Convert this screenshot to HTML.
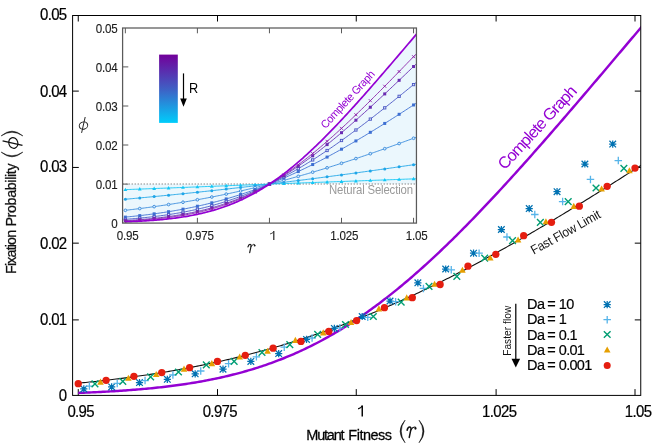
<!DOCTYPE html>
<html><head><meta charset="utf-8"><title>Fixation probability</title>
<style>html,body{margin:0;padding:0;background:#fff}body{width:664px;height:445px;overflow:hidden;font-family:"Liberation Sans",sans-serif}</style></head>
<body>
<svg width="664" height="445" viewBox="0 0 664 445" style="display:block;font-family:'Liberation Sans',sans-serif;will-change:transform;opacity:0.999">
<defs><clipPath id="cm"><rect x="72.60" y="15.50" width="568.15" height="379.90"/></clipPath>
<clipPath id="ci"><rect x="122.60" y="28.00" width="293.85" height="195.10"/></clipPath>
<linearGradient id="cb" x1="0" y1="0" x2="0" y2="1"><stop offset="0" stop-color="#72009a"/><stop offset="0.5" stop-color="#3f5fc4"/><stop offset="1" stop-color="#00cdfb"/></linearGradient>
</defs>
<path d="M78.25 395.40v-6.3M78.25 15.50v6M217.50 395.40v-6.3M217.50 15.50v6M356.25 395.40v-6.3M356.25 15.50v6M496.10 395.40v-6.3M496.10 15.50v6M635.00 395.40v-6.3M635.00 15.50v6M72.60 91.10h6.2M640.75 91.10h-6.0M72.60 167.45h6.2M640.75 167.45h-6.0M72.60 243.15h6.2M640.75 243.15h-6.0M72.60 319.90h6.2M640.75 319.90h-6.0" stroke="#000" stroke-width="1" fill="none"/>
<g clip-path="url(#cm)">
<path d="M78.25 392.91 L80.14 392.84 L82.03 392.76 L83.92 392.69 L85.81 392.61 L87.70 392.53 L89.59 392.45 L91.48 392.36 L93.37 392.28 L95.27 392.19 L97.16 392.10 L99.05 392.00 L100.94 391.91 L102.83 391.81 L104.72 391.71 L106.61 391.60 L108.50 391.50 L110.39 391.39 L112.28 391.28 L114.17 391.16 L116.06 391.05 L117.95 390.93 L119.84 390.80 L121.73 390.67 L123.62 390.54 L125.51 390.41 L127.41 390.28 L129.30 390.14 L131.19 389.99 L133.08 389.84 L134.97 389.69 L136.86 389.54 L138.75 389.38 L140.64 389.22 L142.53 389.05 L144.42 388.88 L146.31 388.71 L148.20 388.53 L150.09 388.35 L151.98 388.16 L153.87 387.97 L155.76 387.77 L157.65 387.57 L159.54 387.37 L161.44 387.16 L163.33 386.94 L165.22 386.72 L167.11 386.49 L169.00 386.26 L170.89 386.03 L172.78 385.79 L174.67 385.54 L176.56 385.29 L178.45 385.03 L180.34 384.76 L182.23 384.49 L184.12 384.22 L186.01 383.94 L187.90 383.65 L189.79 383.35 L191.68 383.05 L193.58 382.74 L195.47 382.43 L197.36 382.11 L199.25 381.78 L201.14 381.44 L203.03 381.10 L204.92 380.75 L206.81 380.39 L208.70 380.03 L210.59 379.66 L212.48 379.28 L214.37 378.89 L216.26 378.50 L218.15 378.09 L220.04 377.68 L221.93 377.26 L223.82 376.83 L225.72 376.39 L227.61 375.95 L229.50 375.49 L231.39 375.03 L233.28 374.56 L235.17 374.08 L237.06 373.59 L238.95 373.09 L240.84 372.58 L242.73 372.06 L244.62 371.53 L246.51 370.99 L248.40 370.44 L250.29 369.89 L252.18 369.32 L254.07 368.74 L255.96 368.15 L257.86 367.55 L259.75 366.94 L261.64 366.32 L263.53 365.69 L265.42 365.04 L267.31 364.39 L269.20 363.72 L271.09 363.05 L272.98 362.36 L274.87 361.66 L276.76 360.95 L278.65 360.23 L280.54 359.50 L282.43 358.75 L284.32 357.99 L286.21 357.22 L288.10 356.44 L290.00 355.65 L291.89 354.84 L293.78 354.02 L295.67 353.19 L297.56 352.35 L299.45 351.49 L301.34 350.63 L303.23 349.74 L305.12 348.85 L307.01 347.94 L308.90 347.02 L310.79 346.09 L312.68 345.15 L314.57 344.19 L316.46 343.22 L318.35 342.23 L320.24 341.23 L322.13 340.22 L324.03 339.20 L325.92 338.16 L327.81 337.11 L329.70 336.04 L331.59 334.97 L333.48 333.87 L335.37 332.77 L337.26 331.65 L339.15 330.52 L341.04 329.37 L342.93 328.22 L344.82 327.04 L346.71 325.86 L348.60 324.66 L350.49 323.45 L352.38 322.22 L354.27 320.98 L356.17 319.73 L358.06 318.46 L359.95 317.18 L361.84 315.89 L363.73 314.58 L365.62 313.26 L367.51 311.93 L369.40 310.58 L371.29 309.22 L373.18 307.85 L375.07 306.46 L376.96 305.06 L378.85 303.65 L380.74 302.22 L382.63 300.79 L384.52 299.34 L386.41 297.87 L388.31 296.40 L390.20 294.91 L392.09 293.41 L393.98 291.89 L395.87 290.36 L397.76 288.83 L399.65 287.27 L401.54 285.71 L403.43 284.14 L405.32 282.55 L407.21 280.95 L409.10 279.34 L410.99 277.71 L412.88 276.08 L414.77 274.43 L416.66 272.78 L418.55 271.11 L420.45 269.43 L422.34 267.74 L424.23 266.03 L426.12 264.32 L428.01 262.60 L429.90 260.86 L431.79 259.12 L433.68 257.36 L435.57 255.60 L437.46 253.82 L439.35 252.03 L441.24 250.24 L443.13 248.43 L445.02 246.62 L446.91 244.79 L448.80 242.95 L450.69 241.11 L452.59 239.26 L454.48 237.39 L456.37 235.52 L458.26 233.64 L460.15 231.75 L462.04 229.85 L463.93 227.95 L465.82 226.03 L467.71 224.11 L469.60 222.18 L471.49 220.24 L473.38 218.29 L475.27 216.34 L477.16 214.38 L479.05 212.41 L480.94 210.43 L482.83 208.44 L484.72 206.45 L486.62 204.45 L488.51 202.45 L490.40 200.44 L492.29 198.42 L494.18 196.39 L496.07 194.36 L497.96 192.32 L499.85 190.28 L501.74 188.23 L503.63 186.17 L505.52 184.11 L507.41 182.04 L509.30 179.97 L511.19 177.89 L513.08 175.80 L514.97 173.71 L516.86 171.62 L518.76 169.52 L520.65 167.42 L522.54 165.31 L524.43 163.19 L526.32 161.08 L528.21 158.95 L530.10 156.83 L531.99 154.69 L533.88 152.56 L535.77 150.42 L537.66 148.27 L539.55 146.13 L541.44 143.98 L543.33 141.82 L545.22 139.66 L547.11 137.50 L549.00 135.34 L550.90 133.17 L552.79 131.00 L554.68 128.82 L556.57 126.64 L558.46 124.46 L560.35 122.28 L562.24 120.09 L564.13 117.90 L566.02 115.71 L567.91 113.52 L569.80 111.32 L571.69 109.12 L573.58 106.92 L575.47 104.72 L577.36 102.51 L579.25 100.30 L581.14 98.09 L583.04 95.88 L584.93 93.67 L586.82 91.45 L588.71 89.24 L590.60 87.02 L592.49 84.80 L594.38 82.57 L596.27 80.35 L598.16 78.13 L600.05 75.90 L601.94 73.67 L603.83 71.45 L605.72 69.22 L607.61 66.99 L609.50 64.75 L611.39 62.52 L613.28 60.29 L615.18 58.05 L617.07 55.82 L618.96 53.58 L620.85 51.34 L622.74 49.11 L624.63 46.87 L626.52 44.63 L628.41 42.39 L630.30 40.15 L632.19 37.91 L634.08 35.67 L635.97 33.43 L637.86 31.19 L639.75 28.95 L641.64 26.70 L643.53 24.46" fill="none" stroke="#9400D3" stroke-width="2.45" stroke-linejoin="round"/>
<path d="M78.25 383.19 L80.14 383.01 L82.03 382.82 L83.92 382.64 L85.81 382.45 L87.70 382.26 L89.59 382.06 L91.48 381.86 L93.37 381.66 L95.27 381.46 L97.16 381.26 L99.05 381.05 L100.94 380.84 L102.83 380.63 L104.72 380.41 L106.61 380.19 L108.50 379.97 L110.39 379.75 L112.28 379.52 L114.17 379.30 L116.06 379.06 L117.95 378.83 L119.84 378.59 L121.73 378.35 L123.62 378.11 L125.51 377.86 L127.41 377.62 L129.30 377.36 L131.19 377.11 L133.08 376.85 L134.97 376.59 L136.86 376.33 L138.75 376.06 L140.64 375.79 L142.53 375.52 L144.42 375.24 L146.31 374.96 L148.20 374.68 L150.09 374.39 L151.98 374.10 L153.87 373.81 L155.76 373.52 L157.65 373.22 L159.54 372.92 L161.44 372.61 L163.33 372.30 L165.22 371.99 L167.11 371.67 L169.00 371.35 L170.89 371.03 L172.78 370.71 L174.67 370.38 L176.56 370.04 L178.45 369.71 L180.34 369.37 L182.23 369.02 L184.12 368.67 L186.01 368.32 L187.90 367.97 L189.79 367.61 L191.68 367.25 L193.58 366.88 L195.47 366.51 L197.36 366.14 L199.25 365.76 L201.14 365.38 L203.03 364.99 L204.92 364.60 L206.81 364.21 L208.70 363.81 L210.59 363.41 L212.48 363.01 L214.37 362.60 L216.26 362.19 L218.15 361.77 L220.04 361.35 L221.93 360.93 L223.82 360.50 L225.72 360.06 L227.61 359.63 L229.50 359.19 L231.39 358.74 L233.28 358.29 L235.17 357.84 L237.06 357.38 L238.95 356.92 L240.84 356.45 L242.73 355.98 L244.62 355.51 L246.51 355.03 L248.40 354.55 L250.29 354.06 L252.18 353.57 L254.07 353.07 L255.96 352.57 L257.86 352.07 L259.75 351.56 L261.64 351.04 L263.53 350.53 L265.42 350.00 L267.31 349.48 L269.20 348.94 L271.09 348.41 L272.98 347.87 L274.87 347.32 L276.76 346.78 L278.65 346.22 L280.54 345.66 L282.43 345.10 L284.32 344.54 L286.21 343.96 L288.10 343.39 L290.00 342.81 L291.89 342.22 L293.78 341.63 L295.67 341.04 L297.56 340.44 L299.45 339.84 L301.34 339.23 L303.23 338.62 L305.12 338.00 L307.01 337.38 L308.90 336.75 L310.79 336.12 L312.68 335.49 L314.57 334.85 L316.46 334.20 L318.35 333.55 L320.24 332.90 L322.13 332.24 L324.03 331.58 L325.92 330.91 L327.81 330.24 L329.70 329.56 L331.59 328.88 L333.48 328.19 L335.37 327.50 L337.26 326.81 L339.15 326.11 L341.04 325.40 L342.93 324.69 L344.82 323.98 L346.71 323.26 L348.60 322.54 L350.49 321.81 L352.38 321.08 L354.27 320.34 L356.17 319.60 L358.06 318.86 L359.95 318.10 L361.84 317.35 L363.73 316.59 L365.62 315.83 L367.51 315.06 L369.40 314.29 L371.29 313.51 L373.18 312.73 L375.07 311.94 L376.96 311.15 L378.85 310.35 L380.74 309.55 L382.63 308.75 L384.52 307.94 L386.41 307.13 L388.31 306.31 L390.20 305.49 L392.09 304.66 L393.98 303.83 L395.87 302.99 L397.76 302.15 L399.65 301.31 L401.54 300.46 L403.43 299.61 L405.32 298.75 L407.21 297.89 L409.10 297.03 L410.99 296.16 L412.88 295.28 L414.77 294.40 L416.66 293.52 L418.55 292.64 L420.45 291.75 L422.34 290.85 L424.23 289.95 L426.12 289.05 L428.01 288.14 L429.90 287.23 L431.79 286.31 L433.68 285.40 L435.57 284.47 L437.46 283.54 L439.35 282.61 L441.24 281.68 L443.13 280.74 L445.02 279.80 L446.91 278.85 L448.80 277.90 L450.69 276.94 L452.59 275.98 L454.48 275.02 L456.37 274.06 L458.26 273.09 L460.15 272.11 L462.04 271.13 L463.93 270.15 L465.82 269.17 L467.71 268.18 L469.60 267.19 L471.49 266.19 L473.38 265.19 L475.27 264.19 L477.16 263.18 L479.05 262.17 L480.94 261.16 L482.83 260.14 L484.72 259.12 L486.62 258.10 L488.51 257.07 L490.40 256.04 L492.29 255.00 L494.18 253.97 L496.07 252.93 L497.96 251.88 L499.85 250.84 L501.74 249.78 L503.63 248.73 L505.52 247.67 L507.41 246.61 L509.30 245.55 L511.19 244.49 L513.08 243.42 L514.97 242.34 L516.86 241.27 L518.76 240.19 L520.65 239.11 L522.54 238.02 L524.43 236.94 L526.32 235.85 L528.21 234.75 L530.10 233.66 L531.99 232.56 L533.88 231.46 L535.77 230.35 L537.66 229.25 L539.55 228.14 L541.44 227.03 L543.33 225.91 L545.22 224.79 L547.11 223.67 L549.00 222.55 L550.90 221.42 L552.79 220.30 L554.68 219.17 L556.57 218.03 L558.46 216.90 L560.35 215.76 L562.24 214.62 L564.13 213.48 L566.02 212.33 L567.91 211.18 L569.80 210.04 L571.69 208.88 L573.58 207.73 L575.47 206.57 L577.36 205.41 L579.25 204.25 L581.14 203.09 L583.04 201.93 L584.93 200.76 L586.82 199.59 L588.71 198.42 L590.60 197.25 L592.49 196.07 L594.38 194.89 L596.27 193.71 L598.16 192.53 L600.05 191.35 L601.94 190.16 L603.83 188.98 L605.72 187.79 L607.61 186.60 L609.50 185.41 L611.39 184.21 L613.28 183.02 L615.18 181.82 L617.07 180.62 L618.96 179.42 L620.85 178.22 L622.74 177.01 L624.63 175.81 L626.52 174.60 L628.41 173.39 L630.30 172.18 L632.19 170.97 L634.08 169.75 L635.97 168.54 L637.86 167.32 L639.75 166.10 L641.64 164.89 L643.53 163.66" fill="none" stroke="#111" stroke-width="1.1"/>
</g>
<path d="M80.22 388.90H87.42M83.82 385.30V392.50M80.51 385.59L87.13 392.21M80.51 392.21L87.13 385.59" stroke="#0072B2" stroke-width="1.25" fill="none"/>
<path d="M108.06 386.90H115.26M111.66 383.30V390.50M108.34 383.59L114.97 390.21M108.34 390.21L114.97 383.59" stroke="#0072B2" stroke-width="1.25" fill="none"/>
<path d="M135.89 382.60H143.09M139.49 379.00V386.20M136.18 379.29L142.80 385.91M136.18 385.91L142.80 379.29" stroke="#0072B2" stroke-width="1.25" fill="none"/>
<path d="M163.73 379.30H170.93M167.33 375.70V382.90M164.02 375.99L170.64 382.61M164.02 382.61L170.64 375.99" stroke="#0072B2" stroke-width="1.25" fill="none"/>
<path d="M191.57 373.80H198.77M195.17 370.20V377.40M191.86 370.49L198.48 377.11M191.86 377.11L198.48 370.49" stroke="#0072B2" stroke-width="1.25" fill="none"/>
<path d="M219.41 369.20H226.61M223.01 365.60V372.80M219.69 365.89L226.32 372.51M219.69 372.51L226.32 365.89" stroke="#0072B2" stroke-width="1.25" fill="none"/>
<path d="M247.24 361.40H254.44M250.84 357.80V365.00M247.53 358.09L254.15 364.71M247.53 364.71L254.15 358.09" stroke="#0072B2" stroke-width="1.25" fill="none"/>
<path d="M275.08 353.60H282.28M278.68 350.00V357.20M275.37 350.29L281.99 356.91M275.37 356.91L281.99 350.29" stroke="#0072B2" stroke-width="1.25" fill="none"/>
<path d="M302.92 339.40H310.12M306.52 335.80V343.00M303.21 336.09L309.83 342.71M303.21 342.71L309.83 336.09" stroke="#0072B2" stroke-width="1.25" fill="none"/>
<path d="M330.76 328.40H337.96M334.36 324.80V332.00M331.04 325.09L337.67 331.71M331.04 331.71L337.67 325.09" stroke="#0072B2" stroke-width="1.25" fill="none"/>
<path d="M358.59 316.50H365.79M362.19 312.90V320.10M358.88 313.19L365.50 319.81M358.88 319.81L365.50 313.19" stroke="#0072B2" stroke-width="1.25" fill="none"/>
<path d="M386.43 301.00H393.63M390.03 297.40V304.60M386.72 297.69L393.34 304.31M386.72 304.31L393.34 297.69" stroke="#0072B2" stroke-width="1.25" fill="none"/>
<path d="M414.27 282.80H421.47M417.87 279.20V286.40M414.56 279.49L421.18 286.11M414.56 286.11L421.18 279.49" stroke="#0072B2" stroke-width="1.25" fill="none"/>
<path d="M442.11 269.00H449.31M445.71 265.40V272.60M442.39 265.69L449.02 272.31M442.39 272.31L449.02 265.69" stroke="#0072B2" stroke-width="1.25" fill="none"/>
<path d="M469.94 253.20H477.14M473.54 249.60V256.80M470.23 249.89L476.85 256.51M470.23 256.51L476.85 249.89" stroke="#0072B2" stroke-width="1.25" fill="none"/>
<path d="M497.78 229.50H504.98M501.38 225.90V233.10M498.07 226.19L504.69 232.81M498.07 232.81L504.69 226.19" stroke="#0072B2" stroke-width="1.25" fill="none"/>
<path d="M525.62 208.60H532.82M529.22 205.00V212.20M525.91 205.29L532.53 211.91M525.91 211.91L532.53 205.29" stroke="#0072B2" stroke-width="1.25" fill="none"/>
<path d="M553.46 191.70H560.66M557.06 188.10V195.30M553.74 188.39L560.37 195.01M553.74 195.01L560.37 188.39" stroke="#0072B2" stroke-width="1.25" fill="none"/>
<path d="M581.29 164.00H588.49M584.89 160.40V167.60M581.58 160.69L588.20 167.31M581.58 167.31L588.20 160.69" stroke="#0072B2" stroke-width="1.25" fill="none"/>
<path d="M609.13 144.10H616.33M612.73 140.50V147.70M609.42 140.79L616.04 147.41M609.42 147.41L616.04 140.79" stroke="#0072B2" stroke-width="1.25" fill="none"/>
<path d="M85.64 386.10H93.14M89.39 382.35V389.85" stroke="#56B4E9" stroke-width="1.30" fill="none"/>
<path d="M113.47 383.40H120.97M117.22 379.65V387.15" stroke="#56B4E9" stroke-width="1.30" fill="none"/>
<path d="M141.31 380.60H148.81M145.06 376.85V384.35" stroke="#56B4E9" stroke-width="1.30" fill="none"/>
<path d="M169.15 375.00H176.65M172.90 371.25V378.75" stroke="#56B4E9" stroke-width="1.30" fill="none"/>
<path d="M196.99 371.00H204.49M200.74 367.25V374.75" stroke="#56B4E9" stroke-width="1.30" fill="none"/>
<path d="M224.82 363.70H232.32M228.57 359.95V367.45" stroke="#56B4E9" stroke-width="1.30" fill="none"/>
<path d="M252.66 356.80H260.16M256.41 353.05V360.55" stroke="#56B4E9" stroke-width="1.30" fill="none"/>
<path d="M280.50 347.20H288.00M284.25 343.45V350.95" stroke="#56B4E9" stroke-width="1.30" fill="none"/>
<path d="M308.34 338.00H315.84M312.09 334.25V341.75" stroke="#56B4E9" stroke-width="1.30" fill="none"/>
<path d="M336.17 327.80H343.67M339.92 324.05V331.55" stroke="#56B4E9" stroke-width="1.30" fill="none"/>
<path d="M364.01 317.30H371.51M367.76 313.55V321.05" stroke="#56B4E9" stroke-width="1.30" fill="none"/>
<path d="M391.85 301.70H399.35M395.60 297.95V305.45" stroke="#56B4E9" stroke-width="1.30" fill="none"/>
<path d="M419.69 288.40H427.19M423.44 284.65V292.15" stroke="#56B4E9" stroke-width="1.30" fill="none"/>
<path d="M447.52 269.80H455.02M451.27 266.05V273.55" stroke="#56B4E9" stroke-width="1.30" fill="none"/>
<path d="M475.36 253.20H482.86M479.11 249.45V256.95" stroke="#56B4E9" stroke-width="1.30" fill="none"/>
<path d="M503.20 237.00H510.70M506.95 233.25V240.75" stroke="#56B4E9" stroke-width="1.30" fill="none"/>
<path d="M531.04 214.50H538.54M534.79 210.75V218.25" stroke="#56B4E9" stroke-width="1.30" fill="none"/>
<path d="M558.87 201.60H566.37M562.62 197.85V205.35" stroke="#56B4E9" stroke-width="1.30" fill="none"/>
<path d="M586.71 179.40H594.21M590.46 175.65V183.15" stroke="#56B4E9" stroke-width="1.30" fill="none"/>
<path d="M614.55 160.60H622.05M618.30 156.85V164.35" stroke="#56B4E9" stroke-width="1.30" fill="none"/>
<path d="M91.60 380.55L98.30 387.25M91.60 387.25L98.30 380.55" stroke="#009E73" stroke-width="1.40" fill="none"/>
<path d="M119.44 378.05L126.14 384.75M119.44 384.75L126.14 378.05" stroke="#009E73" stroke-width="1.40" fill="none"/>
<path d="M147.28 373.55L153.98 380.25M147.28 380.25L153.98 373.55" stroke="#009E73" stroke-width="1.40" fill="none"/>
<path d="M175.12 368.65L181.82 375.35M175.12 375.35L181.82 368.65" stroke="#009E73" stroke-width="1.40" fill="none"/>
<path d="M202.95 361.55L209.65 368.25M202.95 368.25L209.65 361.55" stroke="#009E73" stroke-width="1.40" fill="none"/>
<path d="M230.79 358.05L237.49 364.75M230.79 364.75L237.49 358.05" stroke="#009E73" stroke-width="1.40" fill="none"/>
<path d="M258.63 349.15L265.33 355.85M258.63 355.85L265.33 349.15" stroke="#009E73" stroke-width="1.40" fill="none"/>
<path d="M286.47 341.35L293.17 348.05M286.47 348.05L293.17 341.35" stroke="#009E73" stroke-width="1.40" fill="none"/>
<path d="M314.30 331.05L321.00 337.75M314.30 337.75L321.00 331.05" stroke="#009E73" stroke-width="1.40" fill="none"/>
<path d="M342.14 321.15L348.84 327.85M342.14 327.85L348.84 321.15" stroke="#009E73" stroke-width="1.40" fill="none"/>
<path d="M369.98 313.15L376.68 319.85M369.98 319.85L376.68 313.15" stroke="#009E73" stroke-width="1.40" fill="none"/>
<path d="M397.82 298.85L404.52 305.55M397.82 305.55L404.52 298.85" stroke="#009E73" stroke-width="1.40" fill="none"/>
<path d="M425.65 283.05L432.35 289.75M425.65 289.75L432.35 283.05" stroke="#009E73" stroke-width="1.40" fill="none"/>
<path d="M453.49 273.05L460.19 279.75M453.49 279.75L460.19 273.05" stroke="#009E73" stroke-width="1.40" fill="none"/>
<path d="M481.33 254.75L488.03 261.45M481.33 261.45L488.03 254.75" stroke="#009E73" stroke-width="1.40" fill="none"/>
<path d="M509.17 237.25L515.87 243.95M509.17 243.95L515.87 237.25" stroke="#009E73" stroke-width="1.40" fill="none"/>
<path d="M537.00 219.05L543.70 225.75M537.00 225.75L543.70 219.05" stroke="#009E73" stroke-width="1.40" fill="none"/>
<path d="M564.84 198.25L571.54 204.95M564.84 204.95L571.54 198.25" stroke="#009E73" stroke-width="1.40" fill="none"/>
<path d="M592.68 184.65L599.38 191.35M592.68 191.35L599.38 184.65" stroke="#009E73" stroke-width="1.40" fill="none"/>
<path d="M620.52 165.05L627.22 171.75M620.52 171.75L627.22 165.05" stroke="#009E73" stroke-width="1.40" fill="none"/>
<path d="M100.52 378.54L103.82 384.65L97.22 384.65Z" fill="#E69F00"/>
<path d="M128.36 374.74L131.66 380.85L125.06 380.85Z" fill="#E69F00"/>
<path d="M156.20 370.94L159.50 377.05L152.90 377.05Z" fill="#E69F00"/>
<path d="M184.03 365.54L187.33 371.65L180.73 371.65Z" fill="#E69F00"/>
<path d="M211.87 360.04L215.17 366.15L208.57 366.15Z" fill="#E69F00"/>
<path d="M239.71 353.44L243.01 359.55L236.41 359.55Z" fill="#E69F00"/>
<path d="M267.55 347.74L270.85 353.85L264.25 353.85Z" fill="#E69F00"/>
<path d="M295.38 336.84L298.68 342.95L292.08 342.95Z" fill="#E69F00"/>
<path d="M323.22 329.34L326.52 335.45L319.92 335.45Z" fill="#E69F00"/>
<path d="M351.06 318.94L354.36 325.05L347.76 325.05Z" fill="#E69F00"/>
<path d="M378.90 305.34L382.20 311.45L375.60 311.45Z" fill="#E69F00"/>
<path d="M406.73 294.34L410.03 300.45L403.43 300.45Z" fill="#E69F00"/>
<path d="M434.57 280.64L437.87 286.75L431.27 286.75Z" fill="#E69F00"/>
<path d="M462.41 266.64L465.71 272.75L459.11 272.75Z" fill="#E69F00"/>
<path d="M490.25 254.44L493.55 260.55L486.95 260.55Z" fill="#E69F00"/>
<path d="M518.08 236.44L521.38 242.55L514.78 242.55Z" fill="#E69F00"/>
<path d="M545.92 218.14L549.22 224.25L542.62 224.25Z" fill="#E69F00"/>
<path d="M573.76 202.84L577.06 208.95L570.46 208.95Z" fill="#E69F00"/>
<path d="M601.60 185.44L604.90 191.55L598.30 191.55Z" fill="#E69F00"/>
<path d="M629.43 167.24L632.73 173.35L626.13 173.35Z" fill="#E69F00"/>
<circle cx="78.25" cy="383.70" r="3.65" fill="#E51E10"/>
<circle cx="106.09" cy="380.30" r="3.65" fill="#E51E10"/>
<circle cx="133.93" cy="376.30" r="3.65" fill="#E51E10"/>
<circle cx="161.76" cy="372.60" r="3.65" fill="#E51E10"/>
<circle cx="189.60" cy="367.70" r="3.65" fill="#E51E10"/>
<circle cx="217.44" cy="361.40" r="3.65" fill="#E51E10"/>
<circle cx="245.28" cy="355.30" r="3.65" fill="#E51E10"/>
<circle cx="273.11" cy="348.20" r="3.65" fill="#E51E10"/>
<circle cx="300.95" cy="341.40" r="3.65" fill="#E51E10"/>
<circle cx="328.79" cy="331.40" r="3.65" fill="#E51E10"/>
<circle cx="356.63" cy="320.60" r="3.65" fill="#E51E10"/>
<circle cx="384.46" cy="307.70" r="3.65" fill="#E51E10"/>
<circle cx="412.30" cy="297.70" r="3.65" fill="#E51E10"/>
<circle cx="440.14" cy="284.50" r="3.65" fill="#E51E10"/>
<circle cx="467.98" cy="266.20" r="3.65" fill="#E51E10"/>
<circle cx="495.81" cy="254.30" r="3.65" fill="#E51E10"/>
<circle cx="523.65" cy="235.70" r="3.65" fill="#E51E10"/>
<circle cx="551.49" cy="222.30" r="3.65" fill="#E51E10"/>
<circle cx="579.33" cy="206.20" r="3.65" fill="#E51E10"/>
<circle cx="607.16" cy="186.30" r="3.65" fill="#E51E10"/>
<circle cx="635.00" cy="168.10" r="3.65" fill="#E51E10"/>
<g stroke="#000" stroke-width="1" fill="none">
<rect x="72.60" y="15.50" width="568.15" height="379.90"/>
</g>
<text transform="translate(66.40 20.40) scale(1 1.090)" font-size="15.00" text-anchor="end" fill="#000" letter-spacing="-0.7" stroke="#000" stroke-width="0.20">0.05</text>
<text transform="translate(66.40 96.95) scale(1 1.090)" font-size="15.00" text-anchor="end" fill="#000" letter-spacing="-0.7" stroke="#000" stroke-width="0.20">0.04</text>
<text transform="translate(66.40 172.35) scale(1 1.090)" font-size="15.00" text-anchor="end" fill="#000" letter-spacing="-0.7" stroke="#000" stroke-width="0.20">0.03</text>
<text transform="translate(66.40 249.05) scale(1 1.090)" font-size="15.00" text-anchor="end" fill="#000" letter-spacing="-0.7" stroke="#000" stroke-width="0.20">0.02</text>
<text transform="translate(66.40 324.55) scale(1 1.090)" font-size="15.00" text-anchor="end" fill="#000" letter-spacing="-0.7" stroke="#000" stroke-width="0.20">0.01</text>
<text transform="translate(66.40 401.40) scale(1 1.090)" font-size="15.00" text-anchor="end" fill="#000" letter-spacing="-0.7" stroke="#000" stroke-width="0.20">0</text>
<text transform="translate(80.70 416.80) scale(1 1.090)" font-size="15.00" text-anchor="middle" fill="#000" letter-spacing="-0.65" stroke="#000" stroke-width="0.20">0.95</text>
<text transform="translate(219.80 416.80) scale(1 1.090)" font-size="15.00" text-anchor="middle" fill="#000" letter-spacing="-0.65" stroke="#000" stroke-width="0.20">0.975</text>
<path d="M362.25 405.6V416.6" stroke="#000" stroke-width="1.45" fill="none"/><path d="M362.3 405.7C361.6 407.2 360.0 408.3 358.1 408.9" stroke="#000" stroke-width="1.15" fill="none"/>
<text transform="translate(499.20 416.80) scale(1 1.090)" font-size="15.00" text-anchor="middle" fill="#000" letter-spacing="-0.65" stroke="#000" stroke-width="0.20">1.025</text>
<text transform="translate(638.15 416.80) scale(1 1.090)" font-size="15.00" text-anchor="middle" fill="#000" letter-spacing="-0.65" stroke="#000" stroke-width="0.20">1.05</text>
<rect x="122.60" y="28.00" width="293.85" height="195.10" fill="#fff"/>
<g clip-path="url(#ci)">
<path d="M125.35 221.83 L126.82 221.77 L128.28 221.71 L129.75 221.65 L131.22 221.59 L132.69 221.52 L134.15 221.46 L135.62 221.39 L137.09 221.31 L138.55 221.24 L140.02 221.16 L141.49 221.08 L142.96 220.99 L144.42 220.90 L145.89 220.81 L147.36 220.71 L148.82 220.62 L150.29 220.51 L151.76 220.41 L153.23 220.29 L154.69 220.18 L156.16 220.06 L157.63 219.94 L159.09 219.81 L160.56 219.68 L162.03 219.54 L163.50 219.39 L164.96 219.25 L166.43 219.09 L167.90 218.93 L169.36 218.77 L170.83 218.60 L172.30 218.42 L173.77 218.24 L175.23 218.05 L176.70 217.86 L178.17 217.65 L179.63 217.45 L181.10 217.23 L182.57 217.01 L184.04 216.78 L185.50 216.54 L186.97 216.29 L188.44 216.04 L189.90 215.78 L191.37 215.51 L192.84 215.23 L194.31 214.94 L195.77 214.64 L197.24 214.34 L198.71 214.02 L200.18 213.70 L201.64 213.37 L203.11 213.02 L204.58 212.67 L206.04 212.30 L207.51 211.93 L208.98 211.54 L210.45 211.14 L211.91 210.73 L213.38 210.31 L214.85 209.88 L216.31 209.44 L217.78 208.98 L219.25 208.52 L220.72 208.04 L222.18 207.54 L223.65 207.04 L225.12 206.52 L226.58 205.99 L228.05 205.45 L229.52 204.89 L230.99 204.32 L232.45 203.73 L233.92 203.13 L235.39 202.52 L236.85 201.89 L238.32 201.25 L239.79 200.59 L241.26 199.92 L242.72 199.24 L244.19 198.54 L245.66 197.82 L247.12 197.09 L248.59 196.35 L250.06 195.59 L251.53 194.81 L252.99 194.02 L254.46 193.21 L255.93 192.39 L257.39 191.55 L258.86 190.70 L260.33 189.83 L261.80 188.95 L263.26 188.05 L264.73 187.13 L266.20 186.20 L267.66 185.25 L269.13 184.29 L270.60 183.31 L272.07 182.32 L273.53 181.31 L275.00 180.29 L276.47 179.25 L277.93 178.19 L279.40 177.12 L280.87 176.04 L282.34 174.94 L283.80 173.82 L285.27 172.69 L286.74 171.55 L288.20 170.39 L289.67 169.22 L291.14 168.03 L292.61 166.83 L294.07 165.61 L295.54 164.38 L297.01 163.14 L298.47 161.88 L299.94 160.61 L301.41 159.33 L302.88 158.03 L304.34 156.72 L305.81 155.40 L307.28 154.07 L308.74 152.72 L310.21 151.36 L311.68 149.99 L313.15 148.61 L314.61 147.21 L316.08 145.81 L317.55 144.39 L319.01 142.97 L320.48 141.53 L321.95 140.08 L323.42 138.63 L324.88 137.16 L326.35 135.68 L327.82 134.20 L329.29 132.70 L330.75 131.20 L332.22 129.68 L333.69 128.16 L335.15 126.63 L336.62 125.09 L338.09 123.54 L339.56 121.99 L341.02 120.43 L342.49 118.86 L343.96 117.28 L345.42 115.70 L346.89 114.11 L348.36 112.51 L349.83 110.91 L351.29 109.30 L352.76 107.68 L354.23 106.06 L355.69 104.44 L357.16 102.81 L358.63 101.17 L360.10 99.53 L361.56 97.88 L363.03 96.23 L364.50 94.57 L365.96 92.91 L367.43 91.25 L368.90 89.58 L370.37 87.91 L371.83 86.23 L373.30 84.55 L374.77 82.87 L376.23 81.19 L377.70 79.50 L379.17 77.81 L380.64 76.11 L382.10 74.42 L383.57 72.72 L385.04 71.01 L386.50 69.31 L387.97 67.60 L389.44 65.90 L390.91 64.19 L392.37 62.47 L393.84 60.76 L395.31 59.04 L396.77 57.33 L398.24 55.61 L399.71 53.89 L401.18 52.17 L402.64 50.45 L404.11 48.72 L405.58 47.00 L407.04 45.28 L408.51 43.55 L409.98 41.83 L411.45 40.10 L412.91 38.37 L414.38 36.65 L415.85 34.92 L417.31 33.19 L417.31 184.08 L125.35 184.08Z" fill="#ebf7fd"/>
<path d="M125.35 223.10v-5.3M125.35 28.00v5.3M197.40 223.10v-5.3M197.40 28.00v5.3M269.45 223.10v-5.3M269.45 28.00v5.3M341.50 223.10v-5.3M341.50 28.00v5.3M413.55 223.10v-5.3M413.55 28.00v5.3M122.60 66.90h5.7M122.60 106.00h5.7M122.60 145.00h5.7M122.60 184.10h5.7" stroke="#5a5a5a" stroke-width="1" fill="none"/>
<path d="M122.60 184.08H416.45" stroke="#7c7c7c" stroke-width="1.05" stroke-dasharray="1.3 1.7" fill="none"/>
<path d="M125.35 189.64 L126.82 189.58 L128.28 189.53 L129.75 189.47 L131.22 189.42 L132.69 189.36 L134.15 189.31 L135.62 189.25 L137.09 189.20 L138.55 189.14 L140.02 189.08 L141.49 189.03 L142.96 188.97 L144.42 188.92 L145.89 188.86 L147.36 188.81 L148.82 188.75 L150.29 188.70 L151.76 188.64 L153.23 188.58 L154.69 188.53 L156.16 188.47 L157.63 188.42 L159.09 188.36 L160.56 188.31 L162.03 188.25 L163.50 188.19 L164.96 188.14 L166.43 188.08 L167.90 188.03 L169.36 187.97 L170.83 187.91 L172.30 187.86 L173.77 187.80 L175.23 187.75 L176.70 187.69 L178.17 187.63 L179.63 187.58 L181.10 187.52 L182.57 187.47 L184.04 187.41 L185.50 187.35 L186.97 187.30 L188.44 187.24 L189.90 187.18 L191.37 187.13 L192.84 187.07 L194.31 187.01 L195.77 186.96 L197.24 186.90 L198.71 186.84 L200.18 186.79 L201.64 186.73 L203.11 186.67 L204.58 186.62 L206.04 186.56 L207.51 186.50 L208.98 186.45 L210.45 186.39 L211.91 186.33 L213.38 186.28 L214.85 186.22 L216.31 186.16 L217.78 186.11 L219.25 186.05 L220.72 185.99 L222.18 185.93 L223.65 185.88 L225.12 185.82 L226.58 185.76 L228.05 185.71 L229.52 185.65 L230.99 185.59 L232.45 185.53 L233.92 185.48 L235.39 185.42 L236.85 185.36 L238.32 185.30 L239.79 185.25 L241.26 185.19 L242.72 185.13 L244.19 185.07 L245.66 185.02 L247.12 184.96 L248.59 184.90 L250.06 184.84 L251.53 184.79 L252.99 184.73 L254.46 184.67 L255.93 184.61 L257.39 184.56 L258.86 184.50 L260.33 184.44 L261.80 184.38 L263.26 184.32 L264.73 184.27 L266.20 184.21 L267.66 184.15 L269.13 184.09 L270.60 184.04 L272.07 183.99 L273.53 183.93 L275.00 183.88 L276.47 183.83 L277.93 183.78 L279.40 183.73 L280.87 183.67 L282.34 183.62 L283.80 183.57 L285.27 183.52 L286.74 183.46 L288.20 183.41 L289.67 183.36 L291.14 183.31 L292.61 183.26 L294.07 183.20 L295.54 183.15 L297.01 183.10 L298.47 183.05 L299.94 182.99 L301.41 182.94 L302.88 182.89 L304.34 182.84 L305.81 182.78 L307.28 182.73 L308.74 182.68 L310.21 182.62 L311.68 182.57 L313.15 182.52 L314.61 182.47 L316.08 182.41 L317.55 182.36 L319.01 182.31 L320.48 182.26 L321.95 182.20 L323.42 182.15 L324.88 182.10 L326.35 182.04 L327.82 181.99 L329.29 181.94 L330.75 181.89 L332.22 181.83 L333.69 181.78 L335.15 181.73 L336.62 181.67 L338.09 181.62 L339.56 181.57 L341.02 181.52 L342.49 181.46 L343.96 181.41 L345.42 181.36 L346.89 181.30 L348.36 181.25 L349.83 181.20 L351.29 181.14 L352.76 181.09 L354.23 181.04 L355.69 180.98 L357.16 180.93 L358.63 180.88 L360.10 180.82 L361.56 180.77 L363.03 180.72 L364.50 180.67 L365.96 180.61 L367.43 180.56 L368.90 180.51 L370.37 180.45 L371.83 180.40 L373.30 180.35 L374.77 180.29 L376.23 180.24 L377.70 180.19 L379.17 180.13 L380.64 180.08 L382.10 180.02 L383.57 179.97 L385.04 179.92 L386.50 179.86 L387.97 179.81 L389.44 179.76 L390.91 179.70 L392.37 179.65 L393.84 179.60 L395.31 179.54 L396.77 179.49 L398.24 179.44 L399.71 179.38 L401.18 179.33 L402.64 179.27 L404.11 179.22 L405.58 179.17 L407.04 179.11 L408.51 179.06 L409.98 179.01 L411.45 178.95 L412.91 178.90 L414.38 178.84 L415.85 178.79 L417.31 178.74" fill="none" stroke="#12c6f5" stroke-width="0.9"/>
<path d="M125.35 187.64L127.25 191.04L123.45 191.04Z" fill="#12c6f5"/>
<path d="M139.76 187.09L141.66 190.49L137.86 190.49Z" fill="#12c6f5"/>
<path d="M154.17 186.55L156.07 189.95L152.27 189.95Z" fill="#12c6f5"/>
<path d="M168.58 186.00L170.48 189.40L166.68 189.40Z" fill="#12c6f5"/>
<path d="M182.99 185.45L184.89 188.85L181.09 188.85Z" fill="#12c6f5"/>
<path d="M197.40 184.89L199.30 188.29L195.50 188.29Z" fill="#12c6f5"/>
<path d="M211.81 184.34L213.71 187.74L209.91 187.74Z" fill="#12c6f5"/>
<path d="M226.22 183.78L228.12 187.18L224.32 187.18Z" fill="#12c6f5"/>
<path d="M240.63 183.21L242.53 186.61L238.73 186.61Z" fill="#12c6f5"/>
<path d="M255.04 182.65L256.94 186.05L253.14 186.05Z" fill="#12c6f5"/>
<path d="M269.45 182.08L271.35 185.48L267.55 185.48Z" fill="#12c6f5"/>
<path d="M283.86 181.57L285.76 184.97L281.96 184.97Z" fill="#12c6f5"/>
<path d="M298.27 181.05L300.17 184.45L296.37 184.45Z" fill="#12c6f5"/>
<path d="M312.68 180.54L314.58 183.94L310.78 183.94Z" fill="#12c6f5"/>
<path d="M327.09 180.02L328.99 183.42L325.19 183.42Z" fill="#12c6f5"/>
<path d="M341.50 179.50L343.40 182.90L339.60 182.90Z" fill="#12c6f5"/>
<path d="M355.91 178.98L357.81 182.38L354.01 182.38Z" fill="#12c6f5"/>
<path d="M370.32 178.45L372.22 181.85L368.42 181.85Z" fill="#12c6f5"/>
<path d="M384.73 177.93L386.63 181.33L382.83 181.33Z" fill="#12c6f5"/>
<path d="M399.14 177.40L401.04 180.80L397.24 180.80Z" fill="#12c6f5"/>
<path d="M413.55 176.87L415.45 180.27L411.65 180.27Z" fill="#12c6f5"/>
<path d="M125.35 199.25 L126.82 199.12 L128.28 198.99 L129.75 198.85 L131.22 198.72 L132.69 198.59 L134.15 198.45 L135.62 198.32 L137.09 198.18 L138.55 198.05 L140.02 197.91 L141.49 197.78 L142.96 197.64 L144.42 197.50 L145.89 197.36 L147.36 197.23 L148.82 197.09 L150.29 196.95 L151.76 196.81 L153.23 196.67 L154.69 196.53 L156.16 196.39 L157.63 196.25 L159.09 196.10 L160.56 195.96 L162.03 195.82 L163.50 195.67 L164.96 195.53 L166.43 195.39 L167.90 195.24 L169.36 195.10 L170.83 194.95 L172.30 194.80 L173.77 194.66 L175.23 194.51 L176.70 194.36 L178.17 194.21 L179.63 194.07 L181.10 193.92 L182.57 193.77 L184.04 193.62 L185.50 193.47 L186.97 193.31 L188.44 193.16 L189.90 193.01 L191.37 192.86 L192.84 192.71 L194.31 192.55 L195.77 192.40 L197.24 192.24 L198.71 192.09 L200.18 191.93 L201.64 191.78 L203.11 191.62 L204.58 191.47 L206.04 191.31 L207.51 191.15 L208.98 190.99 L210.45 190.83 L211.91 190.68 L213.38 190.52 L214.85 190.36 L216.31 190.20 L217.78 190.04 L219.25 189.87 L220.72 189.71 L222.18 189.55 L223.65 189.39 L225.12 189.22 L226.58 189.06 L228.05 188.90 L229.52 188.73 L230.99 188.57 L232.45 188.40 L233.92 188.24 L235.39 188.07 L236.85 187.90 L238.32 187.74 L239.79 187.57 L241.26 187.40 L242.72 187.23 L244.19 187.06 L245.66 186.89 L247.12 186.72 L248.59 186.55 L250.06 186.38 L251.53 186.21 L252.99 186.04 L254.46 185.87 L255.93 185.69 L257.39 185.52 L258.86 185.35 L260.33 185.17 L261.80 185.00 L263.26 184.82 L264.73 184.65 L266.20 184.47 L267.66 184.30 L269.13 184.12 L270.60 183.94 L272.07 183.76 L273.53 183.59 L275.00 183.41 L276.47 183.23 L277.93 183.05 L279.40 182.87 L280.87 182.69 L282.34 182.51 L283.80 182.33 L285.27 182.15 L286.74 181.96 L288.20 181.78 L289.67 181.60 L291.14 181.42 L292.61 181.23 L294.07 181.05 L295.54 180.86 L297.01 180.68 L298.47 180.49 L299.94 180.31 L301.41 180.12 L302.88 179.94 L304.34 179.75 L305.81 179.56 L307.28 179.37 L308.74 179.18 L310.21 179.00 L311.68 178.81 L313.15 178.62 L314.61 178.43 L316.08 178.24 L317.55 178.05 L319.01 177.86 L320.48 177.66 L321.95 177.47 L323.42 177.28 L324.88 177.09 L326.35 176.89 L327.82 176.70 L329.29 176.51 L330.75 176.31 L332.22 176.12 L333.69 175.92 L335.15 175.73 L336.62 175.53 L338.09 175.33 L339.56 175.14 L341.02 174.94 L342.49 174.74 L343.96 174.54 L345.42 174.35 L346.89 174.15 L348.36 173.95 L349.83 173.75 L351.29 173.55 L352.76 173.35 L354.23 173.15 L355.69 172.95 L357.16 172.75 L358.63 172.54 L360.10 172.34 L361.56 172.14 L363.03 171.94 L364.50 171.73 L365.96 171.53 L367.43 171.32 L368.90 171.12 L370.37 170.92 L371.83 170.71 L373.30 170.50 L374.77 170.30 L376.23 170.09 L377.70 169.89 L379.17 169.68 L380.64 169.47 L382.10 169.26 L383.57 169.06 L385.04 168.85 L386.50 168.64 L387.97 168.43 L389.44 168.22 L390.91 168.01 L392.37 167.80 L393.84 167.59 L395.31 167.38 L396.77 167.17 L398.24 166.95 L399.71 166.74 L401.18 166.53 L402.64 166.32 L404.11 166.10 L405.58 165.89 L407.04 165.68 L408.51 165.46 L409.98 165.25 L411.45 165.03 L412.91 164.82 L414.38 164.60 L415.85 164.39 L417.31 164.17" fill="none" stroke="#1fa6e8" stroke-width="0.9"/>
<circle cx="125.35" cy="199.25" r="1.5" fill="#1fa6e8"/>
<circle cx="139.76" cy="197.94" r="1.5" fill="#1fa6e8"/>
<circle cx="154.17" cy="196.58" r="1.5" fill="#1fa6e8"/>
<circle cx="168.58" cy="195.17" r="1.5" fill="#1fa6e8"/>
<circle cx="182.99" cy="193.72" r="1.5" fill="#1fa6e8"/>
<circle cx="197.40" cy="192.23" r="1.5" fill="#1fa6e8"/>
<circle cx="211.81" cy="190.69" r="1.5" fill="#1fa6e8"/>
<circle cx="226.22" cy="189.10" r="1.5" fill="#1fa6e8"/>
<circle cx="240.63" cy="187.47" r="1.5" fill="#1fa6e8"/>
<circle cx="255.04" cy="185.80" r="1.5" fill="#1fa6e8"/>
<circle cx="269.45" cy="184.08" r="1.5" fill="#1fa6e8"/>
<circle cx="283.86" cy="182.32" r="1.5" fill="#1fa6e8"/>
<circle cx="298.27" cy="180.52" r="1.5" fill="#1fa6e8"/>
<circle cx="312.68" cy="178.68" r="1.5" fill="#1fa6e8"/>
<circle cx="327.09" cy="176.80" r="1.5" fill="#1fa6e8"/>
<circle cx="341.50" cy="174.88" r="1.5" fill="#1fa6e8"/>
<circle cx="355.91" cy="172.92" r="1.5" fill="#1fa6e8"/>
<circle cx="370.32" cy="170.92" r="1.5" fill="#1fa6e8"/>
<circle cx="384.73" cy="168.89" r="1.5" fill="#1fa6e8"/>
<circle cx="399.14" cy="166.83" r="1.5" fill="#1fa6e8"/>
<circle cx="413.55" cy="164.73" r="1.5" fill="#1fa6e8"/>
<path d="M125.35 210.31 L126.82 210.14 L128.28 209.97 L129.75 209.79 L131.22 209.62 L132.69 209.44 L134.15 209.26 L135.62 209.08 L137.09 208.90 L138.55 208.72 L140.02 208.53 L141.49 208.35 L142.96 208.16 L144.42 207.97 L145.89 207.77 L147.36 207.58 L148.82 207.38 L150.29 207.18 L151.76 206.98 L153.23 206.78 L154.69 206.58 L156.16 206.37 L157.63 206.16 L159.09 205.95 L160.56 205.74 L162.03 205.52 L163.50 205.31 L164.96 205.09 L166.43 204.87 L167.90 204.65 L169.36 204.42 L170.83 204.20 L172.30 203.97 L173.77 203.74 L175.23 203.51 L176.70 203.27 L178.17 203.03 L179.63 202.80 L181.10 202.56 L182.57 202.31 L184.04 202.07 L185.50 201.82 L186.97 201.57 L188.44 201.32 L189.90 201.07 L191.37 200.81 L192.84 200.55 L194.31 200.29 L195.77 200.03 L197.24 199.77 L198.71 199.50 L200.18 199.23 L201.64 198.96 L203.11 198.69 L204.58 198.42 L206.04 198.14 L207.51 197.86 L208.98 197.58 L210.45 197.30 L211.91 197.01 L213.38 196.72 L214.85 196.43 L216.31 196.14 L217.78 195.85 L219.25 195.55 L220.72 195.25 L222.18 194.95 L223.65 194.65 L225.12 194.34 L226.58 194.03 L228.05 193.73 L229.52 193.41 L230.99 193.10 L232.45 192.78 L233.92 192.46 L235.39 192.14 L236.85 191.82 L238.32 191.50 L239.79 191.17 L241.26 190.84 L242.72 190.51 L244.19 190.17 L245.66 189.84 L247.12 189.50 L248.59 189.16 L250.06 188.82 L251.53 188.47 L252.99 188.12 L254.46 187.77 L255.93 187.42 L257.39 187.07 L258.86 186.71 L260.33 186.35 L261.80 185.99 L263.26 185.63 L264.73 185.27 L266.20 184.90 L267.66 184.53 L269.13 184.16 L270.60 183.79 L272.07 183.41 L273.53 183.03 L275.00 182.65 L276.47 182.27 L277.93 181.89 L279.40 181.50 L280.87 181.11 L282.34 180.72 L283.80 180.33 L285.27 179.94 L286.74 179.54 L288.20 179.14 L289.67 178.74 L291.14 178.34 L292.61 177.93 L294.07 177.53 L295.54 177.12 L297.01 176.70 L298.47 176.29 L299.94 175.88 L301.41 175.46 L302.88 175.04 L304.34 174.62 L305.81 174.19 L307.28 173.77 L308.74 173.34 L310.21 172.91 L311.68 172.48 L313.15 172.05 L314.61 171.61 L316.08 171.17 L317.55 170.73 L319.01 170.29 L320.48 169.85 L321.95 169.41 L323.42 168.96 L324.88 168.51 L326.35 168.06 L327.82 167.61 L329.29 167.15 L330.75 166.69 L332.22 166.24 L333.69 165.78 L335.15 165.31 L336.62 164.85 L338.09 164.38 L339.56 163.92 L341.02 163.45 L342.49 162.98 L343.96 162.50 L345.42 162.03 L346.89 161.55 L348.36 161.08 L349.83 160.60 L351.29 160.11 L352.76 159.63 L354.23 159.15 L355.69 158.66 L357.16 158.17 L358.63 157.68 L360.10 157.19 L361.56 156.70 L363.03 156.20 L364.50 155.70 L365.96 155.21 L367.43 154.71 L368.90 154.21 L370.37 153.70 L371.83 153.20 L373.30 152.69 L374.77 152.19 L376.23 151.68 L377.70 151.17 L379.17 150.65 L380.64 150.14 L382.10 149.63 L383.57 149.11 L385.04 148.59 L386.50 148.07 L387.97 147.55 L389.44 147.03 L390.91 146.51 L392.37 145.98 L393.84 145.45 L395.31 144.93 L396.77 144.40 L398.24 143.87 L399.71 143.34 L401.18 142.80 L402.64 142.27 L404.11 141.73 L405.58 141.20 L407.04 140.66 L408.51 140.12 L409.98 139.58 L411.45 139.04 L412.91 138.49 L414.38 137.95 L415.85 137.40 L417.31 136.86" fill="none" stroke="#3a8cdc" stroke-width="0.9"/>
<circle cx="125.35" cy="210.31" r="1.35" fill="#dcedfa" stroke="#3a8cdc" stroke-width="0.95"/>
<circle cx="139.76" cy="208.57" r="1.35" fill="#dcedfa" stroke="#3a8cdc" stroke-width="0.95"/>
<circle cx="154.17" cy="206.65" r="1.35" fill="#dcedfa" stroke="#3a8cdc" stroke-width="0.95"/>
<circle cx="168.58" cy="204.54" r="1.35" fill="#dcedfa" stroke="#3a8cdc" stroke-width="0.95"/>
<circle cx="182.99" cy="202.24" r="1.35" fill="#dcedfa" stroke="#3a8cdc" stroke-width="0.95"/>
<circle cx="197.40" cy="199.74" r="1.35" fill="#dcedfa" stroke="#3a8cdc" stroke-width="0.95"/>
<circle cx="211.81" cy="197.03" r="1.35" fill="#dcedfa" stroke="#3a8cdc" stroke-width="0.95"/>
<circle cx="226.22" cy="194.11" r="1.35" fill="#dcedfa" stroke="#3a8cdc" stroke-width="0.95"/>
<circle cx="240.63" cy="190.98" r="1.35" fill="#dcedfa" stroke="#3a8cdc" stroke-width="0.95"/>
<circle cx="255.04" cy="187.64" r="1.35" fill="#dcedfa" stroke="#3a8cdc" stroke-width="0.95"/>
<circle cx="269.45" cy="184.08" r="1.35" fill="#dcedfa" stroke="#3a8cdc" stroke-width="0.95"/>
<circle cx="283.86" cy="180.32" r="1.35" fill="#dcedfa" stroke="#3a8cdc" stroke-width="0.95"/>
<circle cx="298.27" cy="176.35" r="1.35" fill="#dcedfa" stroke="#3a8cdc" stroke-width="0.95"/>
<circle cx="312.68" cy="172.18" r="1.35" fill="#dcedfa" stroke="#3a8cdc" stroke-width="0.95"/>
<circle cx="327.09" cy="167.83" r="1.35" fill="#dcedfa" stroke="#3a8cdc" stroke-width="0.95"/>
<circle cx="341.50" cy="163.29" r="1.35" fill="#dcedfa" stroke="#3a8cdc" stroke-width="0.95"/>
<circle cx="355.91" cy="158.59" r="1.35" fill="#dcedfa" stroke="#3a8cdc" stroke-width="0.95"/>
<circle cx="370.32" cy="153.72" r="1.35" fill="#dcedfa" stroke="#3a8cdc" stroke-width="0.95"/>
<circle cx="384.73" cy="148.70" r="1.35" fill="#dcedfa" stroke="#3a8cdc" stroke-width="0.95"/>
<circle cx="399.14" cy="143.54" r="1.35" fill="#dcedfa" stroke="#3a8cdc" stroke-width="0.95"/>
<circle cx="413.55" cy="138.26" r="1.35" fill="#dcedfa" stroke="#3a8cdc" stroke-width="0.95"/>
<path d="M125.35 217.10 L126.82 216.96 L128.28 216.82 L129.75 216.68 L131.22 216.53 L132.69 216.38 L134.15 216.23 L135.62 216.07 L137.09 215.91 L138.55 215.75 L140.02 215.59 L141.49 215.42 L142.96 215.25 L144.42 215.07 L145.89 214.89 L147.36 214.71 L148.82 214.53 L150.29 214.34 L151.76 214.15 L153.23 213.95 L154.69 213.76 L156.16 213.55 L157.63 213.35 L159.09 213.14 L160.56 212.93 L162.03 212.71 L163.50 212.49 L164.96 212.26 L166.43 212.04 L167.90 211.80 L169.36 211.57 L170.83 211.33 L172.30 211.08 L173.77 210.83 L175.23 210.58 L176.70 210.32 L178.17 210.06 L179.63 209.80 L181.10 209.53 L182.57 209.25 L184.04 208.98 L185.50 208.69 L186.97 208.41 L188.44 208.11 L189.90 207.82 L191.37 207.52 L192.84 207.21 L194.31 206.90 L195.77 206.58 L197.24 206.26 L198.71 205.94 L200.18 205.61 L201.64 205.28 L203.11 204.94 L204.58 204.59 L206.04 204.24 L207.51 203.89 L208.98 203.53 L210.45 203.16 L211.91 202.80 L213.38 202.42 L214.85 202.04 L216.31 201.66 L217.78 201.27 L219.25 200.87 L220.72 200.47 L222.18 200.07 L223.65 199.65 L225.12 199.24 L226.58 198.82 L228.05 198.39 L229.52 197.96 L230.99 197.52 L232.45 197.08 L233.92 196.63 L235.39 196.17 L236.85 195.71 L238.32 195.25 L239.79 194.78 L241.26 194.30 L242.72 193.82 L244.19 193.33 L245.66 192.84 L247.12 192.34 L248.59 191.84 L250.06 191.33 L251.53 190.82 L252.99 190.30 L254.46 189.77 L255.93 189.24 L257.39 188.70 L258.86 188.16 L260.33 187.61 L261.80 187.06 L263.26 186.50 L264.73 185.93 L266.20 185.36 L267.66 184.79 L269.13 184.21 L270.60 183.62 L272.07 183.03 L273.53 182.43 L275.00 181.83 L276.47 181.22 L277.93 180.61 L279.40 179.99 L280.87 179.36 L282.34 178.73 L283.80 178.10 L285.27 177.46 L286.74 176.81 L288.20 176.16 L289.67 175.50 L291.14 174.84 L292.61 174.17 L294.07 173.50 L295.54 172.82 L297.01 172.14 L298.47 171.45 L299.94 170.76 L301.41 170.06 L302.88 169.36 L304.34 168.65 L305.81 167.94 L307.28 167.22 L308.74 166.50 L310.21 165.77 L311.68 165.04 L313.15 164.30 L314.61 163.56 L316.08 162.81 L317.55 162.06 L319.01 161.31 L320.48 160.55 L321.95 159.78 L323.42 159.01 L324.88 158.24 L326.35 157.46 L327.82 156.68 L329.29 155.89 L330.75 155.10 L332.22 154.31 L333.69 153.51 L335.15 152.70 L336.62 151.90 L338.09 151.08 L339.56 150.27 L341.02 149.45 L342.49 148.63 L343.96 147.80 L345.42 146.97 L346.89 146.13 L348.36 145.29 L349.83 144.45 L351.29 143.60 L352.76 142.75 L354.23 141.90 L355.69 141.04 L357.16 140.18 L358.63 139.32 L360.10 138.45 L361.56 137.58 L363.03 136.71 L364.50 135.83 L365.96 134.95 L367.43 134.07 L368.90 133.18 L370.37 132.29 L371.83 131.40 L373.30 130.50 L374.77 129.61 L376.23 128.70 L377.70 127.80 L379.17 126.89 L380.64 125.99 L382.10 125.07 L383.57 124.16 L385.04 123.24 L386.50 122.32 L387.97 121.40 L389.44 120.48 L390.91 119.55 L392.37 118.62 L393.84 117.69 L395.31 116.75 L396.77 115.82 L398.24 114.88 L399.71 113.94 L401.18 113.00 L402.64 112.05 L404.11 111.11 L405.58 110.16 L407.04 109.21 L408.51 108.26 L409.98 107.30 L411.45 106.35 L412.91 105.39 L414.38 104.43 L415.85 103.47 L417.31 102.51" fill="none" stroke="#3d6fd2" stroke-width="0.9"/>
<rect x="123.85" y="215.60" width="3.00" height="3.00" fill="#3d6fd2"/>
<rect x="138.26" y="214.12" width="3.00" height="3.00" fill="#3d6fd2"/>
<rect x="152.67" y="212.33" width="3.00" height="3.00" fill="#3d6fd2"/>
<rect x="167.08" y="210.19" width="3.00" height="3.00" fill="#3d6fd2"/>
<rect x="181.49" y="207.67" width="3.00" height="3.00" fill="#3d6fd2"/>
<rect x="195.90" y="204.73" width="3.00" height="3.00" fill="#3d6fd2"/>
<rect x="210.31" y="201.32" width="3.00" height="3.00" fill="#3d6fd2"/>
<rect x="224.72" y="197.42" width="3.00" height="3.00" fill="#3d6fd2"/>
<rect x="239.13" y="193.01" width="3.00" height="3.00" fill="#3d6fd2"/>
<rect x="253.54" y="188.06" width="3.00" height="3.00" fill="#3d6fd2"/>
<rect x="267.95" y="182.58" width="3.00" height="3.00" fill="#3d6fd2"/>
<rect x="282.36" y="176.57" width="3.00" height="3.00" fill="#3d6fd2"/>
<rect x="296.77" y="170.05" width="3.00" height="3.00" fill="#3d6fd2"/>
<rect x="311.18" y="163.04" width="3.00" height="3.00" fill="#3d6fd2"/>
<rect x="325.59" y="155.57" width="3.00" height="3.00" fill="#3d6fd2"/>
<rect x="340.00" y="147.68" width="3.00" height="3.00" fill="#3d6fd2"/>
<rect x="354.41" y="139.42" width="3.00" height="3.00" fill="#3d6fd2"/>
<rect x="368.82" y="130.82" width="3.00" height="3.00" fill="#3d6fd2"/>
<rect x="383.23" y="121.93" width="3.00" height="3.00" fill="#3d6fd2"/>
<rect x="397.64" y="112.80" width="3.00" height="3.00" fill="#3d6fd2"/>
<rect x="412.05" y="103.47" width="3.00" height="3.00" fill="#3d6fd2"/>
<path d="M125.35 219.32 L126.82 219.21 L128.28 219.10 L129.75 218.98 L131.22 218.86 L132.69 218.74 L134.15 218.62 L135.62 218.49 L137.09 218.36 L138.55 218.22 L140.02 218.08 L141.49 217.94 L142.96 217.80 L144.42 217.65 L145.89 217.49 L147.36 217.34 L148.82 217.18 L150.29 217.01 L151.76 216.85 L153.23 216.67 L154.69 216.50 L156.16 216.32 L157.63 216.13 L159.09 215.94 L160.56 215.75 L162.03 215.55 L163.50 215.35 L164.96 215.14 L166.43 214.93 L167.90 214.71 L169.36 214.49 L170.83 214.27 L172.30 214.03 L173.77 213.80 L175.23 213.56 L176.70 213.31 L178.17 213.06 L179.63 212.80 L181.10 212.54 L182.57 212.27 L184.04 211.99 L185.50 211.71 L186.97 211.43 L188.44 211.14 L189.90 210.84 L191.37 210.54 L192.84 210.23 L194.31 209.91 L195.77 209.59 L197.24 209.26 L198.71 208.92 L200.18 208.58 L201.64 208.24 L203.11 207.88 L204.58 207.52 L206.04 207.15 L207.51 206.78 L208.98 206.40 L210.45 206.01 L211.91 205.61 L213.38 205.21 L214.85 204.80 L216.31 204.38 L217.78 203.96 L219.25 203.53 L220.72 203.09 L222.18 202.64 L223.65 202.19 L225.12 201.73 L226.58 201.26 L228.05 200.78 L229.52 200.30 L230.99 199.81 L232.45 199.31 L233.92 198.80 L235.39 198.29 L236.85 197.77 L238.32 197.23 L239.79 196.70 L241.26 196.15 L242.72 195.60 L244.19 195.03 L245.66 194.46 L247.12 193.88 L248.59 193.30 L250.06 192.70 L251.53 192.10 L252.99 191.49 L254.46 190.87 L255.93 190.24 L257.39 189.61 L258.86 188.96 L260.33 188.31 L261.80 187.65 L263.26 186.99 L264.73 186.31 L266.20 185.63 L267.66 184.93 L269.13 184.23 L270.60 183.52 L272.07 182.81 L273.53 182.08 L275.00 181.35 L276.47 180.61 L277.93 179.86 L279.40 179.11 L280.87 178.34 L282.34 177.57 L283.80 176.79 L285.27 176.00 L286.74 175.21 L288.20 174.40 L289.67 173.59 L291.14 172.78 L292.61 171.95 L294.07 171.12 L295.54 170.27 L297.01 169.43 L298.47 168.57 L299.94 167.71 L301.41 166.84 L302.88 165.96 L304.34 165.07 L305.81 164.18 L307.28 163.28 L308.74 162.38 L310.21 161.47 L311.68 160.55 L313.15 159.62 L314.61 158.69 L316.08 157.75 L317.55 156.80 L319.01 155.85 L320.48 154.89 L321.95 153.93 L323.42 152.95 L324.88 151.98 L326.35 150.99 L327.82 150.00 L329.29 149.01 L330.75 148.01 L332.22 147.00 L333.69 145.99 L335.15 144.97 L336.62 143.95 L338.09 142.92 L339.56 141.88 L341.02 140.84 L342.49 139.80 L343.96 138.75 L345.42 137.69 L346.89 136.63 L348.36 135.57 L349.83 134.50 L351.29 133.42 L352.76 132.34 L354.23 131.26 L355.69 130.17 L357.16 129.08 L358.63 127.98 L360.10 126.88 L361.56 125.78 L363.03 124.67 L364.50 123.56 L365.96 122.44 L367.43 121.32 L368.90 120.20 L370.37 119.07 L371.83 117.94 L373.30 116.80 L374.77 115.67 L376.23 114.52 L377.70 113.38 L379.17 112.23 L380.64 111.08 L382.10 109.93 L383.57 108.77 L385.04 107.61 L386.50 106.45 L387.97 105.28 L389.44 104.12 L390.91 102.95 L392.37 101.77 L393.84 100.60 L395.31 99.42 L396.77 98.24 L398.24 97.06 L399.71 95.87 L401.18 94.69 L402.64 93.50 L404.11 92.31 L405.58 91.12 L407.04 89.92 L408.51 88.73 L409.98 87.53 L411.45 86.33 L412.91 85.13 L414.38 83.92 L415.85 82.72 L417.31 81.51" fill="none" stroke="#4a56c4" stroke-width="0.9"/>
<rect x="124.20" y="218.17" width="2.30" height="2.30" fill="#d8e4f6" stroke="#4a56c4" stroke-width="0.9"/>
<rect x="138.61" y="216.96" width="2.30" height="2.30" fill="#d8e4f6" stroke="#4a56c4" stroke-width="0.9"/>
<rect x="153.02" y="215.41" width="2.30" height="2.30" fill="#d8e4f6" stroke="#4a56c4" stroke-width="0.9"/>
<rect x="167.43" y="213.46" width="2.30" height="2.30" fill="#d8e4f6" stroke="#4a56c4" stroke-width="0.9"/>
<rect x="181.84" y="211.04" width="2.30" height="2.30" fill="#d8e4f6" stroke="#4a56c4" stroke-width="0.9"/>
<rect x="196.25" y="208.07" width="2.30" height="2.30" fill="#d8e4f6" stroke="#4a56c4" stroke-width="0.9"/>
<rect x="210.66" y="204.49" width="2.30" height="2.30" fill="#d8e4f6" stroke="#4a56c4" stroke-width="0.9"/>
<rect x="225.07" y="200.23" width="2.30" height="2.30" fill="#d8e4f6" stroke="#4a56c4" stroke-width="0.9"/>
<rect x="239.48" y="195.23" width="2.30" height="2.30" fill="#d8e4f6" stroke="#4a56c4" stroke-width="0.9"/>
<rect x="253.89" y="189.47" width="2.30" height="2.30" fill="#d8e4f6" stroke="#4a56c4" stroke-width="0.9"/>
<rect x="268.30" y="182.93" width="2.30" height="2.30" fill="#d8e4f6" stroke="#4a56c4" stroke-width="0.9"/>
<rect x="282.71" y="175.61" width="2.30" height="2.30" fill="#d8e4f6" stroke="#4a56c4" stroke-width="0.9"/>
<rect x="297.12" y="167.54" width="2.30" height="2.30" fill="#d8e4f6" stroke="#4a56c4" stroke-width="0.9"/>
<rect x="311.53" y="158.77" width="2.30" height="2.30" fill="#d8e4f6" stroke="#4a56c4" stroke-width="0.9"/>
<rect x="325.94" y="149.35" width="2.30" height="2.30" fill="#d8e4f6" stroke="#4a56c4" stroke-width="0.9"/>
<rect x="340.35" y="139.35" width="2.30" height="2.30" fill="#d8e4f6" stroke="#4a56c4" stroke-width="0.9"/>
<rect x="354.76" y="128.86" width="2.30" height="2.30" fill="#d8e4f6" stroke="#4a56c4" stroke-width="0.9"/>
<rect x="369.17" y="117.95" width="2.30" height="2.30" fill="#d8e4f6" stroke="#4a56c4" stroke-width="0.9"/>
<rect x="383.58" y="106.70" width="2.30" height="2.30" fill="#d8e4f6" stroke="#4a56c4" stroke-width="0.9"/>
<rect x="397.99" y="95.18" width="2.30" height="2.30" fill="#d8e4f6" stroke="#4a56c4" stroke-width="0.9"/>
<rect x="412.40" y="83.46" width="2.30" height="2.30" fill="#d8e4f6" stroke="#4a56c4" stroke-width="0.9"/>
<path d="M125.35 220.60 L126.82 220.52 L128.28 220.43 L129.75 220.34 L131.22 220.24 L132.69 220.14 L134.15 220.04 L135.62 219.94 L137.09 219.83 L138.55 219.72 L140.02 219.61 L141.49 219.49 L142.96 219.37 L144.42 219.24 L145.89 219.11 L147.36 218.98 L148.82 218.85 L150.29 218.71 L151.76 218.56 L153.23 218.41 L154.69 218.26 L156.16 218.10 L157.63 217.94 L159.09 217.78 L160.56 217.60 L162.03 217.43 L163.50 217.25 L164.96 217.06 L166.43 216.87 L167.90 216.67 L169.36 216.47 L170.83 216.27 L172.30 216.05 L173.77 215.84 L175.23 215.61 L176.70 215.38 L178.17 215.15 L179.63 214.90 L181.10 214.65 L182.57 214.40 L184.04 214.14 L185.50 213.87 L186.97 213.60 L188.44 213.31 L189.90 213.03 L191.37 212.73 L192.84 212.43 L194.31 212.12 L195.77 211.80 L197.24 211.47 L198.71 211.14 L200.18 210.80 L201.64 210.45 L203.11 210.10 L204.58 209.73 L206.04 209.36 L207.51 208.98 L208.98 208.59 L210.45 208.19 L211.91 207.78 L213.38 207.37 L214.85 206.94 L216.31 206.51 L217.78 206.07 L219.25 205.61 L220.72 205.15 L222.18 204.68 L223.65 204.20 L225.12 203.71 L226.58 203.21 L228.05 202.70 L229.52 202.18 L230.99 201.66 L232.45 201.12 L233.92 200.57 L235.39 200.01 L236.85 199.44 L238.32 198.86 L239.79 198.27 L241.26 197.67 L242.72 197.06 L244.19 196.44 L245.66 195.81 L247.12 195.17 L248.59 194.51 L250.06 193.85 L251.53 193.18 L252.99 192.49 L254.46 191.80 L255.93 191.09 L257.39 190.38 L258.86 189.65 L260.33 188.91 L261.80 188.16 L263.26 187.40 L264.73 186.63 L266.20 185.85 L267.66 185.06 L269.13 184.26 L270.60 183.44 L272.07 182.62 L273.53 181.78 L275.00 180.94 L276.47 180.08 L277.93 179.22 L279.40 178.34 L280.87 177.45 L282.34 176.56 L283.80 175.65 L285.27 174.73 L286.74 173.80 L288.20 172.86 L289.67 171.91 L291.14 170.95 L292.61 169.99 L294.07 169.01 L295.54 168.02 L297.01 167.02 L298.47 166.01 L299.94 165.00 L301.41 163.97 L302.88 162.94 L304.34 161.89 L305.81 160.84 L307.28 159.77 L308.74 158.70 L310.21 157.62 L311.68 156.53 L313.15 155.43 L314.61 154.33 L316.08 153.21 L317.55 152.09 L319.01 150.96 L320.48 149.82 L321.95 148.67 L323.42 147.52 L324.88 146.35 L326.35 145.18 L327.82 144.01 L329.29 142.82 L330.75 141.63 L332.22 140.43 L333.69 139.22 L335.15 138.01 L336.62 136.79 L338.09 135.57 L339.56 134.33 L341.02 133.10 L342.49 131.85 L343.96 130.60 L345.42 129.34 L346.89 128.08 L348.36 126.81 L349.83 125.54 L351.29 124.26 L352.76 122.98 L354.23 121.69 L355.69 120.39 L357.16 119.09 L358.63 117.79 L360.10 116.48 L361.56 115.17 L363.03 113.85 L364.50 112.53 L365.96 111.20 L367.43 109.87 L368.90 108.54 L370.37 107.20 L371.83 105.85 L373.30 104.51 L374.77 103.16 L376.23 101.81 L377.70 100.45 L379.17 99.09 L380.64 97.73 L382.10 96.36 L383.57 94.99 L385.04 93.62 L386.50 92.25 L387.97 90.87 L389.44 89.49 L390.91 88.11 L392.37 86.73 L393.84 85.34 L395.31 83.95 L396.77 82.56 L398.24 81.17 L399.71 79.77 L401.18 78.38 L402.64 76.98 L404.11 75.58 L405.58 74.17 L407.04 72.77 L408.51 71.37 L409.98 69.96 L411.45 68.55 L412.91 67.14 L414.38 65.73 L415.85 64.32 L417.31 62.91" fill="none" stroke="#6a2bb2" stroke-width="0.9"/>
<rect x="123.85" y="219.10" width="3.00" height="3.00" fill="#6a2bb2"/>
<rect x="138.26" y="218.13" width="3.00" height="3.00" fill="#6a2bb2"/>
<rect x="152.67" y="216.82" width="3.00" height="3.00" fill="#6a2bb2"/>
<rect x="167.08" y="215.08" width="3.00" height="3.00" fill="#6a2bb2"/>
<rect x="181.49" y="212.83" width="3.00" height="3.00" fill="#6a2bb2"/>
<rect x="195.90" y="209.94" width="3.00" height="3.00" fill="#6a2bb2"/>
<rect x="210.31" y="206.31" width="3.00" height="3.00" fill="#6a2bb2"/>
<rect x="224.72" y="201.84" width="3.00" height="3.00" fill="#6a2bb2"/>
<rect x="239.13" y="196.43" width="3.00" height="3.00" fill="#6a2bb2"/>
<rect x="253.54" y="190.02" width="3.00" height="3.00" fill="#6a2bb2"/>
<rect x="267.95" y="182.58" width="3.00" height="3.00" fill="#6a2bb2"/>
<rect x="282.36" y="174.11" width="3.00" height="3.00" fill="#6a2bb2"/>
<rect x="296.77" y="164.66" width="3.00" height="3.00" fill="#6a2bb2"/>
<rect x="311.18" y="154.28" width="3.00" height="3.00" fill="#6a2bb2"/>
<rect x="325.59" y="143.09" width="3.00" height="3.00" fill="#6a2bb2"/>
<rect x="340.00" y="131.19" width="3.00" height="3.00" fill="#6a2bb2"/>
<rect x="354.41" y="118.70" width="3.00" height="3.00" fill="#6a2bb2"/>
<rect x="368.82" y="105.74" width="3.00" height="3.00" fill="#6a2bb2"/>
<rect x="383.23" y="92.41" width="3.00" height="3.00" fill="#6a2bb2"/>
<rect x="397.64" y="78.81" width="3.00" height="3.00" fill="#6a2bb2"/>
<rect x="412.05" y="65.03" width="3.00" height="3.00" fill="#6a2bb2"/>
<path d="M125.35 221.11 L126.82 221.04 L128.28 220.96 L129.75 220.88 L131.22 220.80 L132.69 220.71 L134.15 220.62 L135.62 220.53 L137.09 220.44 L138.55 220.34 L140.02 220.24 L141.49 220.13 L142.96 220.02 L144.42 219.91 L145.89 219.80 L147.36 219.68 L148.82 219.55 L150.29 219.43 L151.76 219.30 L153.23 219.16 L154.69 219.02 L156.16 218.88 L157.63 218.73 L159.09 218.58 L160.56 218.42 L162.03 218.25 L163.50 218.09 L164.96 217.91 L166.43 217.73 L167.90 217.55 L169.36 217.36 L170.83 217.17 L172.30 216.97 L173.77 216.76 L175.23 216.55 L176.70 216.33 L178.17 216.10 L179.63 215.87 L181.10 215.63 L182.57 215.39 L184.04 215.14 L185.50 214.88 L186.97 214.61 L188.44 214.34 L189.90 214.06 L191.37 213.77 L192.84 213.47 L194.31 213.17 L195.77 212.86 L197.24 212.54 L198.71 212.21 L200.18 211.87 L201.64 211.53 L203.11 211.17 L204.58 210.81 L206.04 210.44 L207.51 210.06 L208.98 209.66 L210.45 209.26 L211.91 208.85 L213.38 208.44 L214.85 208.01 L216.31 207.57 L217.78 207.12 L219.25 206.66 L220.72 206.19 L222.18 205.71 L223.65 205.22 L225.12 204.72 L226.58 204.20 L228.05 203.68 L229.52 203.15 L230.99 202.60 L232.45 202.04 L233.92 201.48 L235.39 200.90 L236.85 200.31 L238.32 199.70 L239.79 199.09 L241.26 198.46 L242.72 197.82 L244.19 197.17 L245.66 196.51 L247.12 195.84 L248.59 195.15 L250.06 194.46 L251.53 193.75 L252.99 193.02 L254.46 192.29 L255.93 191.54 L257.39 190.78 L258.86 190.01 L260.33 189.23 L261.80 188.43 L263.26 187.62 L264.73 186.80 L266.20 185.97 L267.66 185.13 L269.13 184.27 L270.60 183.40 L272.07 182.52 L273.53 181.62 L275.00 180.72 L276.47 179.80 L277.93 178.87 L279.40 177.92 L280.87 176.97 L282.34 176.00 L283.80 175.03 L285.27 174.04 L286.74 173.03 L288.20 172.02 L289.67 171.00 L291.14 169.96 L292.61 168.91 L294.07 167.85 L295.54 166.78 L297.01 165.70 L298.47 164.61 L299.94 163.51 L301.41 162.40 L302.88 161.27 L304.34 160.14 L305.81 159.00 L307.28 157.84 L308.74 156.68 L310.21 155.50 L311.68 154.32 L313.15 153.13 L314.61 151.92 L316.08 150.71 L317.55 149.49 L319.01 148.26 L320.48 147.02 L321.95 145.77 L323.42 144.51 L324.88 143.25 L326.35 141.97 L327.82 140.69 L329.29 139.40 L330.75 138.10 L332.22 136.80 L333.69 135.49 L335.15 134.17 L336.62 132.84 L338.09 131.50 L339.56 130.16 L341.02 128.82 L342.49 127.46 L343.96 126.10 L345.42 124.73 L346.89 123.36 L348.36 121.98 L349.83 120.59 L351.29 119.20 L352.76 117.80 L354.23 116.40 L355.69 114.99 L357.16 113.58 L358.63 112.16 L360.10 110.74 L361.56 109.31 L363.03 107.88 L364.50 106.45 L365.96 105.01 L367.43 103.56 L368.90 102.11 L370.37 100.66 L371.83 99.20 L373.30 97.74 L374.77 96.28 L376.23 94.81 L377.70 93.34 L379.17 91.87 L380.64 90.39 L382.10 88.91 L383.57 87.43 L385.04 85.94 L386.50 84.45 L387.97 82.96 L389.44 81.47 L390.91 79.98 L392.37 78.48 L393.84 76.98 L395.31 75.48 L396.77 73.97 L398.24 72.47 L399.71 70.96 L401.18 69.45 L402.64 67.94 L404.11 66.43 L405.58 64.91 L407.04 63.40 L408.51 61.88 L409.98 60.37 L411.45 58.85 L412.91 57.33 L414.38 55.81 L415.85 54.29 L417.31 52.76" fill="none" stroke="#8d22a8" stroke-width="0.9"/>
<path d="M123.85 219.61L126.85 222.61M123.85 222.61L126.85 219.61" stroke="#8d22a8" stroke-width="0.9" fill="none"/>
<path d="M138.26 218.75L141.26 221.75M138.26 221.75L141.26 218.75" stroke="#8d22a8" stroke-width="0.9" fill="none"/>
<path d="M152.67 217.57L155.67 220.57M152.67 220.57L155.67 217.57" stroke="#8d22a8" stroke-width="0.9" fill="none"/>
<path d="M167.08 215.96L170.08 218.96M167.08 218.96L170.08 215.96" stroke="#8d22a8" stroke-width="0.9" fill="none"/>
<path d="M181.49 213.82L184.49 216.82M181.49 216.82L184.49 213.82" stroke="#8d22a8" stroke-width="0.9" fill="none"/>
<path d="M195.90 211.00L198.90 214.00M195.90 214.00L198.90 211.00" stroke="#8d22a8" stroke-width="0.9" fill="none"/>
<path d="M210.31 207.38L213.31 210.38M210.31 210.38L213.31 207.38" stroke="#8d22a8" stroke-width="0.9" fill="none"/>
<path d="M224.72 202.83L227.72 205.83M224.72 205.83L227.72 202.83" stroke="#8d22a8" stroke-width="0.9" fill="none"/>
<path d="M239.13 197.23L242.13 200.23M239.13 200.23L242.13 197.23" stroke="#8d22a8" stroke-width="0.9" fill="none"/>
<path d="M253.54 190.50L256.54 193.50M253.54 193.50L256.54 190.50" stroke="#8d22a8" stroke-width="0.9" fill="none"/>
<path d="M267.95 182.58L270.95 185.58M267.95 185.58L270.95 182.58" stroke="#8d22a8" stroke-width="0.9" fill="none"/>
<path d="M282.36 173.49L285.36 176.49M282.36 176.49L285.36 173.49" stroke="#8d22a8" stroke-width="0.9" fill="none"/>
<path d="M296.77 163.27L299.77 166.27M296.77 166.27L299.77 163.27" stroke="#8d22a8" stroke-width="0.9" fill="none"/>
<path d="M311.18 152.01L314.18 155.01M311.18 155.01L314.18 152.01" stroke="#8d22a8" stroke-width="0.9" fill="none"/>
<path d="M325.59 139.83L328.59 142.83M325.59 142.83L328.59 139.83" stroke="#8d22a8" stroke-width="0.9" fill="none"/>
<path d="M340.00 126.87L343.00 129.87M340.00 129.87L343.00 126.87" stroke="#8d22a8" stroke-width="0.9" fill="none"/>
<path d="M354.41 113.29L357.41 116.29M354.41 116.29L357.41 113.29" stroke="#8d22a8" stroke-width="0.9" fill="none"/>
<path d="M368.82 99.20L371.82 102.20M368.82 102.20L371.82 99.20" stroke="#8d22a8" stroke-width="0.9" fill="none"/>
<path d="M383.23 84.75L386.23 87.75M383.23 87.75L386.23 84.75" stroke="#8d22a8" stroke-width="0.9" fill="none"/>
<path d="M397.64 70.04L400.64 73.04M397.64 73.04L400.64 70.04" stroke="#8d22a8" stroke-width="0.9" fill="none"/>
<path d="M412.05 55.17L415.05 58.17M412.05 58.17L415.05 55.17" stroke="#8d22a8" stroke-width="0.9" fill="none"/>
<path d="M125.35 221.83 L126.82 221.77 L128.28 221.71 L129.75 221.65 L131.22 221.59 L132.69 221.52 L134.15 221.46 L135.62 221.39 L137.09 221.31 L138.55 221.24 L140.02 221.16 L141.49 221.08 L142.96 220.99 L144.42 220.90 L145.89 220.81 L147.36 220.71 L148.82 220.62 L150.29 220.51 L151.76 220.41 L153.23 220.29 L154.69 220.18 L156.16 220.06 L157.63 219.94 L159.09 219.81 L160.56 219.68 L162.03 219.54 L163.50 219.39 L164.96 219.25 L166.43 219.09 L167.90 218.93 L169.36 218.77 L170.83 218.60 L172.30 218.42 L173.77 218.24 L175.23 218.05 L176.70 217.86 L178.17 217.65 L179.63 217.45 L181.10 217.23 L182.57 217.01 L184.04 216.78 L185.50 216.54 L186.97 216.29 L188.44 216.04 L189.90 215.78 L191.37 215.51 L192.84 215.23 L194.31 214.94 L195.77 214.64 L197.24 214.34 L198.71 214.02 L200.18 213.70 L201.64 213.37 L203.11 213.02 L204.58 212.67 L206.04 212.30 L207.51 211.93 L208.98 211.54 L210.45 211.14 L211.91 210.73 L213.38 210.31 L214.85 209.88 L216.31 209.44 L217.78 208.98 L219.25 208.52 L220.72 208.04 L222.18 207.54 L223.65 207.04 L225.12 206.52 L226.58 205.99 L228.05 205.45 L229.52 204.89 L230.99 204.32 L232.45 203.73 L233.92 203.13 L235.39 202.52 L236.85 201.89 L238.32 201.25 L239.79 200.59 L241.26 199.92 L242.72 199.24 L244.19 198.54 L245.66 197.82 L247.12 197.09 L248.59 196.35 L250.06 195.59 L251.53 194.81 L252.99 194.02 L254.46 193.21 L255.93 192.39 L257.39 191.55 L258.86 190.70 L260.33 189.83 L261.80 188.95 L263.26 188.05 L264.73 187.13 L266.20 186.20 L267.66 185.25 L269.13 184.29 L270.60 183.31 L272.07 182.32 L273.53 181.31 L275.00 180.29 L276.47 179.25 L277.93 178.19 L279.40 177.12 L280.87 176.04 L282.34 174.94 L283.80 173.82 L285.27 172.69 L286.74 171.55 L288.20 170.39 L289.67 169.22 L291.14 168.03 L292.61 166.83 L294.07 165.61 L295.54 164.38 L297.01 163.14 L298.47 161.88 L299.94 160.61 L301.41 159.33 L302.88 158.03 L304.34 156.72 L305.81 155.40 L307.28 154.07 L308.74 152.72 L310.21 151.36 L311.68 149.99 L313.15 148.61 L314.61 147.21 L316.08 145.81 L317.55 144.39 L319.01 142.97 L320.48 141.53 L321.95 140.08 L323.42 138.63 L324.88 137.16 L326.35 135.68 L327.82 134.20 L329.29 132.70 L330.75 131.20 L332.22 129.68 L333.69 128.16 L335.15 126.63 L336.62 125.09 L338.09 123.54 L339.56 121.99 L341.02 120.43 L342.49 118.86 L343.96 117.28 L345.42 115.70 L346.89 114.11 L348.36 112.51 L349.83 110.91 L351.29 109.30 L352.76 107.68 L354.23 106.06 L355.69 104.44 L357.16 102.81 L358.63 101.17 L360.10 99.53 L361.56 97.88 L363.03 96.23 L364.50 94.57 L365.96 92.91 L367.43 91.25 L368.90 89.58 L370.37 87.91 L371.83 86.23 L373.30 84.55 L374.77 82.87 L376.23 81.19 L377.70 79.50 L379.17 77.81 L380.64 76.11 L382.10 74.42 L383.57 72.72 L385.04 71.01 L386.50 69.31 L387.97 67.60 L389.44 65.90 L390.91 64.19 L392.37 62.47 L393.84 60.76 L395.31 59.04 L396.77 57.33 L398.24 55.61 L399.71 53.89 L401.18 52.17 L402.64 50.45 L404.11 48.72 L405.58 47.00 L407.04 45.28 L408.51 43.55 L409.98 41.83 L411.45 40.10 L412.91 38.37 L414.38 36.65 L415.85 34.92 L417.31 33.19" fill="none" stroke="#9400D3" stroke-width="1.7"/>
</g>
<g stroke="#5a5a5a" stroke-width="1.25" fill="none">
<rect x="122.60" y="28.00" width="293.85" height="195.10"/>
</g>
<text transform="translate(117.40 32.60) scale(1 1.090)" font-size="11.60" text-anchor="end" fill="#1a1a1a" letter-spacing="-0.2" stroke="#1a1a1a" stroke-width="0.12">0.05</text>
<text transform="translate(117.40 71.50) scale(1 1.090)" font-size="11.60" text-anchor="end" fill="#1a1a1a" letter-spacing="-0.2" stroke="#1a1a1a" stroke-width="0.12">0.04</text>
<text transform="translate(117.40 110.60) scale(1 1.090)" font-size="11.60" text-anchor="end" fill="#1a1a1a" letter-spacing="-0.2" stroke="#1a1a1a" stroke-width="0.12">0.03</text>
<text transform="translate(117.40 149.60) scale(1 1.090)" font-size="11.60" text-anchor="end" fill="#1a1a1a" letter-spacing="-0.2" stroke="#1a1a1a" stroke-width="0.12">0.02</text>
<text transform="translate(117.40 188.70) scale(1 1.090)" font-size="11.60" text-anchor="end" fill="#1a1a1a" letter-spacing="-0.2" stroke="#1a1a1a" stroke-width="0.12">0.01</text>
<text transform="translate(117.40 227.70) scale(1 1.090)" font-size="11.60" text-anchor="end" fill="#1a1a1a" letter-spacing="-0.2" stroke="#1a1a1a" stroke-width="0.12">0</text>
<text transform="translate(127.70 240.00) scale(1 1.090)" font-size="11.60" text-anchor="middle" fill="#1a1a1a" letter-spacing="-0.2" stroke="#1a1a1a" stroke-width="0.12">0.95</text>
<text transform="translate(199.80 240.00) scale(1 1.090)" font-size="11.60" text-anchor="middle" fill="#1a1a1a" letter-spacing="-0.2" stroke="#1a1a1a" stroke-width="0.12">0.975</text>
<path d="M273.8 231.2V239.9" stroke="#1a1a1a" stroke-width="1.15" fill="none"/><path d="M273.8 231.3C273.3 232.5 272.0 233.4 270.2 233.9" stroke="#1a1a1a" stroke-width="0.95" fill="none"/>
<text transform="translate(344.30 240.00) scale(1 1.090)" font-size="11.60" text-anchor="middle" fill="#1a1a1a" letter-spacing="-0.2" stroke="#1a1a1a" stroke-width="0.12">1.025</text>
<text transform="translate(416.60 240.00) scale(1 1.090)" font-size="11.60" text-anchor="middle" fill="#1a1a1a" letter-spacing="-0.2" stroke="#1a1a1a" stroke-width="0.12">1.05</text>
<rect x="159.1" y="54.6" width="18.7" height="68.3" fill="url(#cb)"/>
<path d="M183.5 73.4V101" stroke="#000" stroke-width="1.2" fill="none"/><path d="M183.5 106.8L180.2 98.6L186.8 98.6Z" fill="#000"/>
<text transform="translate(189.00 92.70) scale(1 1.000)" font-size="15.00" text-anchor="start" fill="#000" textLength="9.2" lengthAdjust="spacingAndGlyphs">R</text>
<text transform="translate(329.00 193.90) scale(1 1.050)" font-size="11.40" text-anchor="start" fill="#9a9a9a" textLength="84">Netural Selection</text>
<text transform="translate(325.5 129.2) rotate(-47.5) scale(1 1.04)" font-size="10.8" fill="#9400D3" textLength="74">Complete Graph</text>
<g transform="translate(247.90 252.80) scale(0.800)" fill="none" stroke="#1a1a1a" stroke-linecap="round"><path d="M0.1 -7.4C0.5 -9.0 1.4 -10.5 2.6 -10.5C3.7 -10.5 4.15 -9.6 3.95 -8.4L2.25 -0.2" stroke-width="1.5"/><path d="M3.9 -7.6C4.8 -9.2 6.1 -10.6 7.5 -10.6C8.2 -10.6 8.7 -10.3 8.8 -9.7" stroke-width="1.1"/><circle cx="8.45" cy="-9.0" r="1.15" fill="#1a1a1a" stroke="none"/></g>
<g transform="translate(83.30 125.00) rotate(0) scale(1.000)" fill="none" stroke="#1a1a1a" stroke-width="0.95"><ellipse cx="0" cy="0.6" rx="4.3" ry="3.6" transform="rotate(-18)"/><path d="M1.9 -8L-1.7 7.9"/></g>
<text transform="translate(504.8 170.6) rotate(-47.2) scale(1 1.0)" font-size="16.4" fill="#9400D3" textLength="107.5">Complete Graph</text>
<text transform="translate(533.8 254.8) rotate(-29) scale(1 1.09)" font-size="11.9" fill="#111" textLength="77.5">Fast Flow Limit</text>
<text transform="translate(0 308.90) scale(1 1.03)" font-size="14.5" fill="#000" stroke="#000" stroke-width="0.2"><tspan x="527.0" letter-spacing="-0.35">Da</tspan><tspan x="547.3">=</tspan><tspan x="558.8" letter-spacing="-0.7">10</tspan></text>
<text transform="translate(0 324.40) scale(1 1.03)" font-size="14.5" fill="#000" stroke="#000" stroke-width="0.2"><tspan x="527.0" letter-spacing="-0.35">Da</tspan><tspan x="547.3">=</tspan><tspan x="558.8" letter-spacing="-0.7">1</tspan></text>
<text transform="translate(0 339.60) scale(1 1.03)" font-size="14.5" fill="#000" stroke="#000" stroke-width="0.2"><tspan x="527.0" letter-spacing="-0.35">Da</tspan><tspan x="547.3">=</tspan><tspan x="558.8" letter-spacing="-0.7">0.1</tspan></text>
<text transform="translate(0 354.90) scale(1 1.03)" font-size="14.5" fill="#000" stroke="#000" stroke-width="0.2"><tspan x="527.0" letter-spacing="-0.35">Da</tspan><tspan x="547.3">=</tspan><tspan x="558.8" letter-spacing="-0.7">0.01</tspan></text>
<text transform="translate(0 370.20) scale(1 1.03)" font-size="14.5" fill="#000" stroke="#000" stroke-width="0.2"><tspan x="527.0" letter-spacing="-0.35">Da</tspan><tspan x="547.3">=</tspan><tspan x="558.8" letter-spacing="-0.7">0.001</tspan></text>
<path d="M603.60 304.60H610.80M607.20 301.00V308.20M603.89 301.29L610.51 307.91M603.89 307.91L610.51 301.29" stroke="#0072B2" stroke-width="1.25" fill="none"/>
<path d="M603.45 319.70H610.95M607.20 315.95V323.45" stroke="#56B4E9" stroke-width="1.30" fill="none"/>
<path d="M603.85 331.15L610.55 337.85M603.85 337.85L610.55 331.15" stroke="#009E73" stroke-width="1.40" fill="none"/>
<path d="M607.20 346.44L610.50 352.55L603.90 352.55Z" fill="#E69F00"/>
<circle cx="607.20" cy="365.40" r="3.50" fill="#E51E10"/>
<path d="M515.8 303.7V360" stroke="#000" stroke-width="1.25" fill="none"/><path d="M515.8 367.4L511.5 358.8L520.1 358.8Z" fill="#000"/>
<text transform="translate(510.8 355.8) rotate(-90) scale(1 1.0)" font-size="10.1" fill="#111" textLength="50">Faster flow</text>
<text transform="translate(306.30 439.60) scale(1 1.020)" font-size="14.50" text-anchor="start" fill="#000" textLength="38.3" stroke="#000" stroke-width="0.25">Mutant</text>
<text transform="translate(348.30 439.60) scale(1 1.020)" font-size="14.50" text-anchor="start" fill="#000" textLength="43.8" stroke="#000" stroke-width="0.25">Fitness</text>
<path d="M405.10 420.10Q395.03 431.45 405.10 442.80Q397.42 431.45 405.10 420.10Z" fill="#111" stroke="#111" stroke-width="0.5"/>
<path d="M419.00 420.10Q429.07 431.45 419.00 442.80Q426.69 431.45 419.00 420.10Z" fill="#111" stroke="#111" stroke-width="0.5"/>
<g transform="translate(407.00 437.60) scale(1.000)" fill="none" stroke="#111" stroke-linecap="round"><path d="M0.1 -7.4C0.5 -9.0 1.4 -10.5 2.6 -10.5C3.7 -10.5 4.15 -9.6 3.95 -8.4L2.25 -0.2" stroke-width="1.5"/><path d="M3.9 -7.6C4.8 -9.2 6.1 -10.6 7.5 -10.6C8.2 -10.6 8.7 -10.3 8.8 -9.7" stroke-width="1.1"/><circle cx="8.45" cy="-9.0" r="1.15" fill="#111" stroke="none"/></g>
<text transform="translate(16.2 274.0) rotate(-90) scale(1 1.03)" font-size="14.3" fill="#111" stroke="#111" stroke-width="0.25" textLength="44.2">Fixation</text>
<text transform="translate(16.2 226.6) rotate(-90) scale(1 1.03)" font-size="14.3" fill="#111" stroke="#111" stroke-width="0.25" textLength="63.2">Probability</text>
<g transform="translate(12.0 143.8) rotate(-90)">
<path d="M-8.30 -10.90Q-17.80 0.00 -8.30 10.90Q-15.55 0.00 -8.30 -10.90Z" fill="#111" stroke="#111" stroke-width="0.5"/>
<path d="M7.90 -10.90Q17.40 0.00 7.90 10.90Q15.15 0.00 7.90 -10.90Z" fill="#111" stroke="#111" stroke-width="0.5"/>
</g>
<g transform="translate(12.60 143.20) rotate(-90) scale(1.250)" fill="none" stroke="#111" stroke-width="0.95"><ellipse cx="0" cy="0.6" rx="4.3" ry="3.6" transform="rotate(-18)"/><path d="M1.9 -8L-1.7 7.9"/></g>
</svg>
</body></html>
